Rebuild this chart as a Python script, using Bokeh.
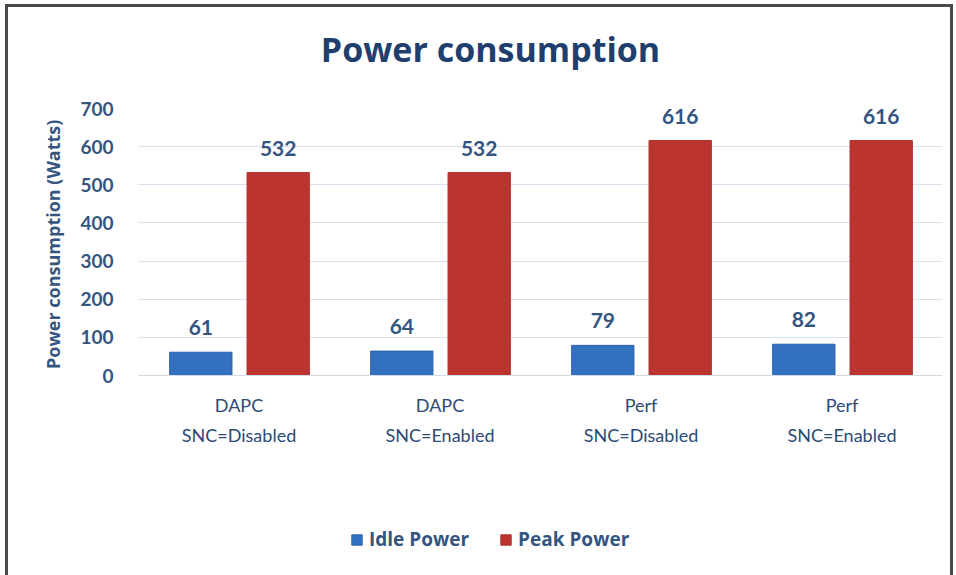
from bokeh.plotting import figure
from bokeh.layouts import column
from bokeh.models import (ColumnDataSource, FactorRange, Range1d, FixedTicker, Legend,
                          LegendItem, Label, LabelSet)
from bokeh.core.properties import value
from bokeh.transform import dodge
from bokeh.embed import file_html
from bokeh.resources import INLINE

categories = ["DAPC\nSNC=Disabled", "DAPC\nSNC=Enabled", "Perf\nSNC=Disabled", "Perf\nSNC=Enabled"]
idle_power = [61, 64, 79, 82]
peak_power = [532, 532, 616, 616]
y_ticks = [0, 100, 200, 300, 400, 500, 600, 700]
series_names = ["Idle Power", "Peak Power"]
series_colors = ["#3470c0", "#bb3430"]
series_lines = ["#2d62aa", "#ad302c"]
title_text = "Power consumption"

TEXT = "#34557f"
FONT = "Lato"


def strip(height, x_range):
    f = figure(width=942, height=height, frame_width=804, frame_height=height,
               min_border_left=130, min_border_right=8, min_border_top=0, min_border_bottom=0,
               output_backend="svg", toolbar_location=None,
               x_axis_location=None, y_axis_location=None,
               x_range=x_range, y_range=Range1d(0, height))
    f.outline_line_color = None
    f.grid.grid_line_color = None
    f.border_fill_color = "white"
    return f


src = ColumnDataSource(dict(cat=categories, idle=idle_power, peak=peak_power,
                            idle_txt=[str(v) for v in idle_power],
                            peak_txt=[str(v) for v in peak_power]))

# title strip
pt = strip(89, Range1d(0, 804))
pt.add_layout(Label(x=352, y=48, text=title_text, text_align="center", text_baseline="alphabetic",
                    text_font="Open Sans", text_font_size="34px", text_font_style="bold",
                    text_color="#1f3f6e"))

p = figure(x_range=FactorRange(factors=categories, range_padding=0),
           y_range=Range1d(0, 700),
           width=942, frame_width=804, frame_height=267,
           min_border_left=130, min_border_right=8, min_border_top=12, min_border_bottom=135,
           output_backend="svg", toolbar_location=None, title=None)
p.outline_line_color = None
p.background_fill_color = "white"
p.border_fill_color = "white"

b1 = p.vbar(x=dodge("cat", -0.19, range=p.x_range), top="idle", width=0.31, source=src,
            fill_color=series_colors[0], line_color=series_lines[0])
b2 = p.vbar(x=dodge("cat", 0.195, range=p.x_range), top="peak", width=0.31, source=src,
            fill_color=series_colors[1], line_color=series_lines[1])

for col, off in (("idle_txt", -0.19), ("peak_txt", 0.195)):
    ls = LabelSet(x=dodge("cat", off, range=p.x_range), y=col.split("_")[0], text=col, source=src,
                  text_align="center", text_baseline="bottom", y_offset=17,
                  text_font=value(FONT), text_font_size=value("21px"),
                  text_font_style=value("bold"), text_color=value(TEXT))
    p.add_layout(ls)

p.yaxis.ticker = FixedTicker(ticks=y_ticks)
p.yaxis.axis_line_color = None
p.yaxis.major_tick_line_color = None
p.yaxis.minor_tick_line_color = None
p.yaxis.major_label_standoff = 19
p.yaxis.major_label_text_font = FONT
p.yaxis.major_label_text_font_size = "19px"
p.yaxis.major_label_text_font_style = "bold"
p.yaxis.major_label_text_color = TEXT
p.yaxis.axis_label = "Power consumption  (Watts)"
p.yaxis.axis_label_text_font = "Open Sans"
p.yaxis.axis_label_text_font_size = "18px"
p.yaxis.axis_label_text_font_style = "bold"
p.yaxis.axis_label_text_color = TEXT
p.yaxis.axis_label_standoff = 12

p.xaxis.axis_line_color = "#d3dbe6"
p.xaxis.major_tick_line_color = None
p.xaxis.minor_tick_line_color = None
p.xaxis.major_label_standoff = 12
p.xaxis.major_label_text_font = FONT
p.xaxis.major_label_text_font_size = "18px"
p.xaxis.major_label_text_color = "#2c4a75"
p.xaxis.major_label_text_line_height = 1.4

p.xgrid.grid_line_color = None
p.ygrid.grid_line_color = "#d8e2ee"
p.ygrid.grid_line_width = 1

# legend strip below the chart (proxy renderers are hidden; only their legend swatches show)
pl = strip(65, FactorRange(factors=categories))
r1 = pl.vbar(x="cat", top="idle", width=0.3, source=src, visible=False,
             fill_color=series_colors[0], line_color=series_lines[0])
r2 = pl.vbar(x="cat", top="peak", width=0.3, source=src, visible=False,
             fill_color=series_colors[1], line_color=series_lines[1])
legend = Legend(items=[LegendItem(label=series_names[0], renderers=[r1]),
                       LegendItem(label=series_names[1], renderers=[r2])],
                orientation="horizontal", location=(212, 23), padding=0, spacing=30, margin=0,
                glyph_width=13, glyph_height=13, label_standoff=6,
                inactive_fill_alpha=0,
                label_text_font="Open Sans", label_text_font_size="19px", label_text_font_style="bold",
                label_text_color=TEXT, border_line_color=None, background_fill_alpha=0)
pl.add_layout(legend, "center")

lay = column(pt, p, pl, spacing=0)
lay.styles = {"border": "3px solid #4a4a4a", "border-bottom": "none", "margin": "4px 0 0 5px"}

open("out.html", "w").write(file_html(lay, INLINE))
